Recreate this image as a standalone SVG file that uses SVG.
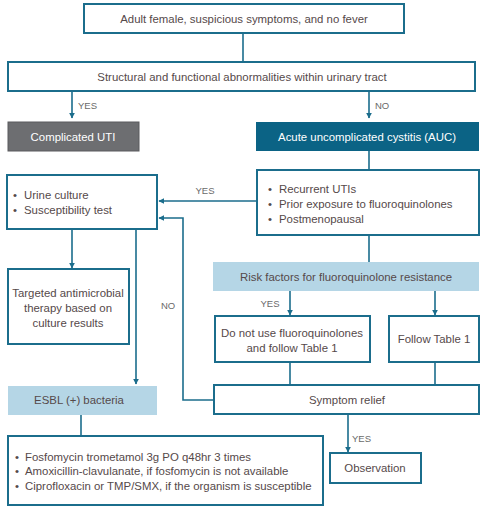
<svg xmlns="http://www.w3.org/2000/svg" width="485" height="509" viewBox="0 0 485 509">
<defs>
<marker id="ah" viewBox="0 0 10 10" refX="9" refY="5" markerWidth="6" markerHeight="6" orient="auto" markerUnits="userSpaceOnUse">
<path d="M0,0 L10,5 L0,10 z" fill="#1b6d8c"/>
</marker>
<style>
.box{fill:#fff;stroke:#1b6d8c;stroke-width:2}
.lb{fill:#b5d6e6;stroke:none}
.t{font-family:"Liberation Sans",Arial,sans-serif;font-size:11.4px;fill:#55494a}
.c{text-anchor:middle}
.w{fill:#fff;font-size:11.4px}
.lbl{font-family:"Liberation Sans",Arial,sans-serif;font-size:9.5px;fill:#6a6a6a}
.ln{fill:none;stroke:#1b6d8c;stroke-width:1.6}
.ar{marker-end:url(#ah)}
</style>
</defs>
<rect width="485" height="509" fill="#fff"/>
<g id="connectors">
<path class="ln" d="M243,33 V62"/>
<path class="ln ar" d="M72,91 V118"/>
<path class="ln ar" d="M369,91 V118"/>
<path class="ln" d="M369,151 V170"/>
<path class="ln" d="M369,235 V262"/>
<path class="ln ar" d="M257,201 H159"/>
<path class="ln ar" d="M214,400 H183 V218 H159"/>
<path class="ln ar" d="M72,229 V268"/>
<path class="ln ar" d="M136,229 V384"/>
<path class="ln" d="M81,415 V436"/>
<path class="ln ar" d="M290,290 V315"/>
<path class="ln ar" d="M435,290 V315"/>
<path class="ln" d="M290,362 V385"/>
<path class="ln" d="M435,362 V385"/>
<path class="ln ar" d="M348,414 V452"/>
<text class="lbl" x="78" y="109">YES</text>
<text class="lbl" x="375" y="109">NO</text>
<text class="lbl c" x="205" y="194">YES</text>
<text class="lbl c" x="168" y="309">NO</text>
<text class="lbl c" x="270" y="307">YES</text>
<text class="lbl" x="352" y="442">YES</text>
</g>
<g id="n1"><rect class="box" x="84" y="4" width="320" height="29"/><text class="t c" x="244" y="23">Adult female, suspicious symptoms, and no fever</text></g>
<g id="n2"><rect class="box" x="8" y="62" width="467" height="29"/><text class="t c" x="242" y="81">Structural and functional abnormalities within urinary tract</text></g>
<g id="n3"><rect x="8" y="122" width="131" height="29" fill="#6d6e71" stroke="#5a5b5e" stroke-width="1"/><text class="t c w" x="73" y="141">Complicated UTI</text></g>
<g id="n4"><rect x="256" y="122" width="223" height="29" fill="#0b6385"/><text class="t c w" x="367" y="141">Acute uncomplicated cystitis (AUC)</text></g>
<g id="n5"><rect class="box" x="257" y="170" width="222" height="65"/>
<text class="t" x="268" y="193">•</text><text class="t" x="279" y="193">Recurrent UTIs</text>
<text class="t" x="268" y="208">•</text><text class="t" x="279" y="208">Prior exposure to fluoroquinolones</text>
<text class="t" x="268" y="223">•</text><text class="t" x="279" y="223">Postmenopausal</text></g>
<g id="n6"><rect class="box" x="7" y="175" width="150" height="54"/>
<text class="t" x="13" y="199">•</text><text class="t" x="24" y="199">Urine culture</text>
<text class="t" x="13" y="214">•</text><text class="t" x="24" y="214">Susceptibility test</text></g>
<g id="n7"><rect class="box" x="8" y="269" width="121" height="75"/>
<text class="t c" x="68" y="297">Targeted antimicrobial</text>
<text class="t c" x="68" y="312">therapy based on</text>
<text class="t c" x="68" y="327">culture results</text></g>
<g id="n8"><rect class="lb" x="213" y="262" width="266" height="29"/><text class="t c" x="346" y="281">Risk factors for fluoroquinolone resistance</text></g>
<g id="n9"><rect class="box" x="215" y="316" width="155" height="46"/>
<text class="t c" x="292" y="337">Do not use fluoroquinolones</text>
<text class="t c" x="292" y="352">and follow Table 1</text></g>
<g id="n10"><rect class="box" x="389" y="316" width="90" height="46"/><text class="t c" x="434" y="343">Follow Table 1</text></g>
<g id="n11"><rect class="box" x="214" y="385" width="265" height="29"/><text class="t c" x="347" y="404">Symptom relief</text></g>
<g id="n12"><rect class="lb" x="8" y="386" width="149" height="29"/><text class="t c" x="79" y="404">ESBL (+) bacteria</text></g>
<g id="n13"><rect class="box" x="8" y="436" width="315" height="69"/>
<text class="t" x="15" y="461">•</text><text class="t" x="25" y="461">Fosfomycin trometamol 3g PO q48hr 3 times</text>
<text class="t" x="15" y="475">•</text><text class="t" x="25" y="475">Amoxicillin-clavulanate, if fosfomycin is not available</text>
<text class="t" x="15" y="490">•</text><text class="t" x="25" y="490">Ciprofloxacin or TMP/SMX, if the organism is susceptible</text></g>
<g id="n14"><rect class="box" x="330" y="453" width="91" height="30"/><text class="t c" x="375" y="472">Observation</text></g>
</svg>
